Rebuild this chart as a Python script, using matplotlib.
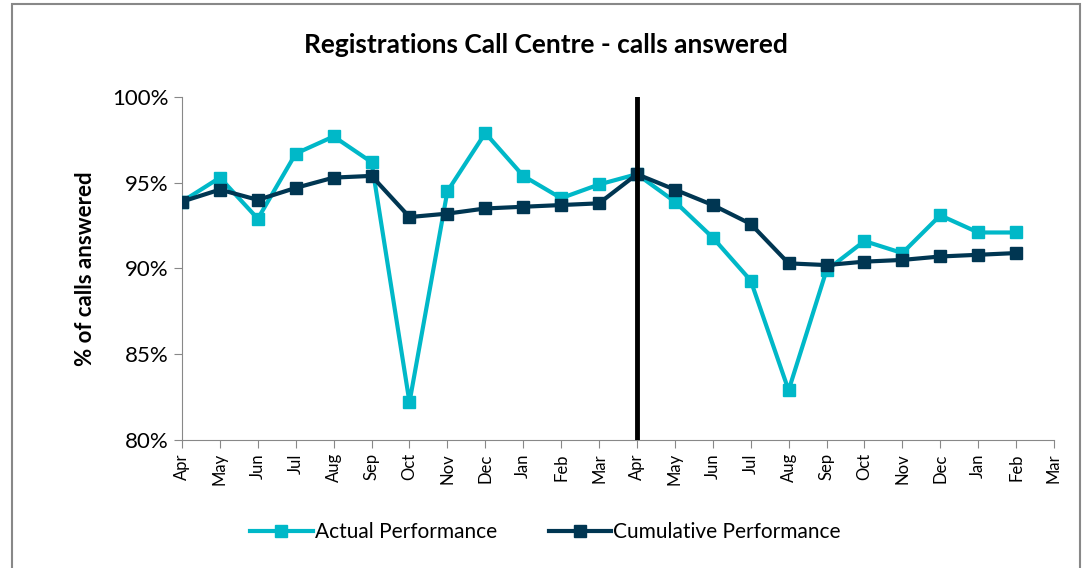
'''
Registrations Call Centre - calls answered
'''

import matplotlib
matplotlib.use('Agg')
import matplotlib.pyplot as plt
from matplotlib.patches import Rectangle
from matplotlib.ticker import FuncFormatter

months = ['Apr', 'May', 'Jun', 'Jul', 'Aug', 'Sep', 'Oct', 'Nov', 'Dec', 'Jan', 'Feb', 'Mar',
          'Apr', 'May', 'Jun', 'Jul', 'Aug', 'Sep', 'Oct', 'Nov', 'Dec', 'Jan', 'Feb', 'Mar']

actual = [93.9, 95.3, 92.9, 96.7, 97.7, 96.2, 82.2, 94.5, 97.9, 95.4, 94.1, 94.9,
          95.5, 93.9, 91.8, 89.3, 82.9, 89.9, 91.6, 90.9, 93.1, 92.1, 92.1]
cumulative = [93.9, 94.6, 94.0, 94.7, 95.3, 95.4, 93.0, 93.2, 93.5, 93.6, 93.7, 93.8,
              95.5, 94.6, 93.7, 92.6, 90.3, 90.2, 90.4, 90.5, 90.7, 90.8, 90.9]

year_break = 12

plt.rcParams['font.family'] = ['Lato', 'DejaVu Sans']

fig = plt.figure(figsize=(10.91, 5.68), dpi=100)
ax = fig.add_axes([182 / 1091, 1 - 440 / 568, (1054 - 182) / 1091, (440 - 97) / 568])

# outer chart border
fig.patches.append(Rectangle((12 / 1091, -0.01), (1080 - 12) / 1091, 1 - 4 / 568 + 0.01,
                             transform=fig.transFigure, fill=False, edgecolor='#888888', lw=1.5))

ax.plot(range(len(actual)), actual, color='#00B8C8', lw=3, marker='s', markersize=9,
        label='Actual Performance', zorder=3)
ax.plot(range(len(cumulative)), cumulative, color='#003652', lw=3, marker='s', markersize=9,
        label='Cumulative Performance', zorder=4)
ax.axvline(year_break, color='black', lw=3.5, zorder=5)

ax.set_xlim(0, len(months) - 1)
ax.set_ylim(80, 100)
ax.set_xticks(range(len(months)))
ax.set_xticklabels(months, rotation=90, fontsize=12)
ax.set_yticks([80, 85, 90, 95, 100])
ax.yaxis.set_major_formatter(FuncFormatter(lambda v, p: '%d%%' % v))
ax.tick_params(axis='y', labelsize=16, length=6, color='#888888')
ax.tick_params(axis='x', length=6, color='#888888')
for s in ['top', 'right']:
    ax.spines[s].set_visible(False)
for s in ['left', 'bottom']:
    ax.spines[s].set_color('#888888')

ax.set_ylabel('% of calls answered', fontsize=16, fontweight='bold', labelpad=12)
fig.text(0.5, 1 - 45 / 568, 'Registrations Call Centre - calls answered', ha='center', va='center',
         fontsize=19, fontweight='bold')

fig.legend(loc='center', bbox_to_anchor=(0.5, 1 - 532 / 568), ncol=2, frameon=False,
           fontsize=15, handlelength=3, columnspacing=2.5, handletextpad=0.1)

fig.savefig('out.png', dpi=100)
